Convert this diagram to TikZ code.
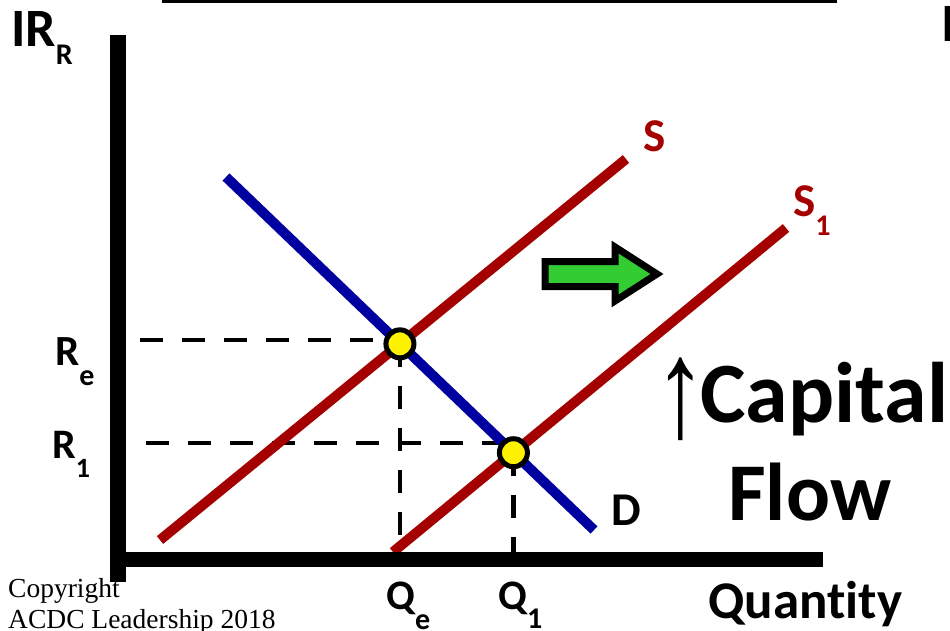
\documentclass[tikz,border=0pt]{standalone}
\usepackage{fontspec}
\setmainfont{Carlito}[Ligatures=NoCommon]
\newfontfamily\timesf{Liberation Serif}
\newfontfamily\arrowf{Liberation Sans}
\definecolor{sred}{RGB}{165,0,0}
\definecolor{dblue}{RGB}{0,0,160}
\definecolor{agreen}{RGB}{51,204,51}
\newcommand{\fsz}[1]{\fontsize{#1}{#1}\selectfont}
\begin{document}
\begin{tikzpicture}[x=1pt,y=-1pt,
  lbl/.style={anchor=base west, inner sep=0pt, font=\bfseries},
  curve/.style={line width=10pt},
  guide/.style={line width=4.5pt, dash pattern=on 23pt off 19pt},
  eqpt/.style={circle, draw=black, fill=yellow, line width=5pt, minimum size=28pt, inner sep=0pt}]
\useasboundingbox (0,0) rectangle (950,631);
\clip (0,0) rectangle (950,631);
% top rule fragment
\fill (162,0) rectangle (837,3);
% curve end points
\coordinate (sA) at (160,540); \coordinate (sB) at (626,159);
\coordinate (s1A) at (393,552); \coordinate (s1B) at (786,228);
\coordinate (dA) at (226,177); \coordinate (dB) at (594,530);
\coordinate (E) at (intersection of sA--sB and dA--dB);
\coordinate (E1) at (intersection of s1A--s1B and dA--dB);
\coordinate (reL) at (140,340);
\coordinate (r1L) at (146,443);
\coordinate (axY) at (0,552);
% guides
\draw[guide] (reL) -- (reL -| E);
\draw[guide] (r1L) -- (r1L -| E1);
\draw[guide] (E) -- (E |- axY);
\draw[guide] (E1) -- (E1 |- axY);
% curves
\draw[curve, sred] (sA) -- (sB);
\draw[curve, sred] (s1A) -- (s1B);
\draw[curve, dblue] (dA) -- (dB);
% axes
\fill (110,35) rectangle (126,582);
\fill (110,552) rectangle (823,567);
% equilibrium points
\node[eqpt] (pe) at (E) {};
\node[eqpt] (p1) at (E1) {};
% shift arrow
\draw[line width=7pt, fill=agreen, line join=miter]
  (545,261.5) -- (615,261.5) -- (615,247) -- (657,274) -- (615,301) -- (615,286.5) -- (545,286.5) -- cycle;
% labels
\node[lbl] (ir) at (11,47) {\fsz{54}IR\raisebox{-18pt}{\fsz{30}R}};
\node[lbl] (icut) at (941,42) {\fsz{54}I};
\node[lbl] (re) at (55,365) {\fsz{43}R\raisebox{-20pt}{\fsz{30}e}};
\node[lbl] (r1) at (52,458) {\fsz{42}R\raisebox{-19pt}{\fsz{28}1}};
\node[lbl, text=sred] (slab) at (643,152) {\fsz{47}S};
\node[lbl, text=sred] (s1lab) at (793,217) {\fsz{47}S\raisebox{-18pt}{\fsz{30}1}};
\node[lbl] (dlab) at (611,525) {\fsz{47}D};
\node[lbl] (qe) at (386,609) {\fsz{42}Q\raisebox{-20pt}{\fsz{30}e}};
\node[lbl] (q1) at (498,609) {\fsz{42}Q\raisebox{-19pt}{\fsz{30}1}};
\node[lbl] (qty) at (708,618) {\fsz{53}Quantity};
\node[lbl] (capf) at (662,422) {\makebox[38pt][c]{\raisebox{-14pt}{\arrowf\mdseries\scalebox{0.75}[1]{\fsz{140}↑}}}\fsz{86}Capital};
\node[lbl] (flow) at (728,520) {\fsz{82}Flow};
\node[anchor=base west, inner sep=0pt, align=left, font=\timesf\fontsize{27.5}{31}\selectfont] (copy) at (8,628) {Copyright\\ACDC Leadership 2018};
\end{tikzpicture}
\end{document}
